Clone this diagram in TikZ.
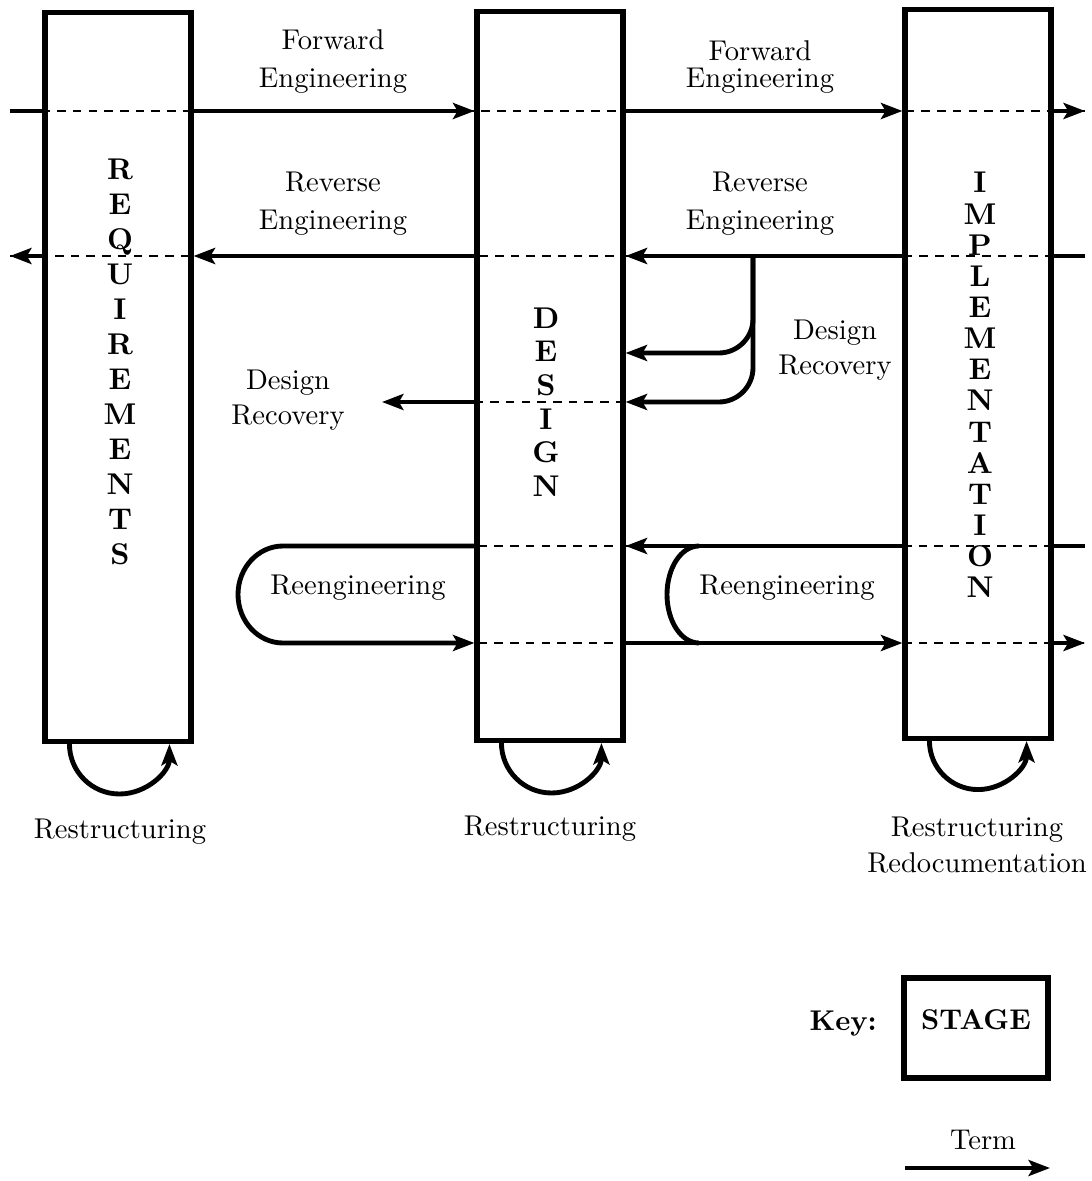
\documentclass[tikz,border=0pt]{standalone}
\usepackage{amsmath,amssymb}
\usepackage{tikz}
\usetikzlibrary{arrows.meta, positioning}

\begin{document}
\begin{tikzpicture}[x=0.35pt, y=-0.35pt]
            % Define block styles
            \tikzstyle{stage} = [draw, rectangle, line width=1.9pt, minimum width=51pt, minimum height=255pt]
            \tikzstyle{keybox} = [draw, rectangle, line width=1.9pt, minimum width=50.5pt, minimum height=35pt, font=\bfseries, text depth=5.6pt]
            \tikzstyle{letters} = [align=center, font={\bfseries\fontsize{10.5pt}{12.25pt}\selectfont}]
            \tikzstyle{txt} = [align=center, font={\fontsize{10pt}{13.3pt}\selectfont}]
            \tikzstyle{wire} = [line width=1.7pt]
            \tikzstyle{flow} = [wire, -{Stealth[length=7.5pt, width=5.6pt, inset=1.6pt]}]
            \tikzstyle{crossing} = [line width=0.5pt, dash pattern=on 3pt off 2.5pt]

            \useasboundingbox (0,0) rectangle (1091,1181);

            % Nodes
            \node[stage] at (118,377) (req) {};
            \node[stage] at (550,376) (des) {};
            \node[stage] at (978,374) (impl) {};
            \node[letters] at (120,362) (reqname) {R\\E\\Q\\U\\I\\R\\E\\M\\E\\N\\T\\S};
            \node[letters, font={\bfseries\fontsize{10.5pt}{11.8pt}\selectfont}] at (546,402) (desname) {D\\E\\S\\I\\G\\N};
            \node[letters, font={\bfseries\fontsize{10.5pt}{10.9pt}\selectfont}] at (980,385) (implname) {I\\M\\P\\L\\E\\M\\E\\N\\T\\A\\T\\I\\O\\N};

            \node[txt] at (333,62) (fwdA) {Forward\\Engineering};
            \node[txt, font={\fontsize{10pt}{9.5pt}\selectfont}] at (760,67) (fwdB) {Forward\\Engineering};
            \node[txt] at (333,204) (revA) {Reverse\\Engineering};
            \node[txt] at (760,204) (revB) {Reverse\\Engineering};
            \node[txt, font={\fontsize{10pt}{12.25pt}\selectfont}] at (288,400) (recA) {Design\\Recovery};
            \node[txt, font={\fontsize{10pt}{12.25pt}\selectfont}] at (835,350) (recB) {Design\\Recovery};
            \node at (358,588) (reengA) {Reengineering};
            \node at (787,588) (reengB) {Reengineering};
            \node at (120,832) (restA) {Restructuring};
            \node at (550,829) (restB) {Restructuring};
            \node[txt, font={\fontsize{10pt}{12.6pt}\selectfont}] at (977,845) (restC) {Restructuring\\Redocumentation};

            % Key
            \node[keybox] at (976,1028) (key) {STAGE};
            \node[font=\bfseries, left=5pt of key, yshift=1.5pt] (keyname) {Key:};
            \node at (983,1140) (term) {Term};

            % Free ends
            \coordinate (fwdin) at (10,111);
            \coordinate (fwdout) at (1085,111);
            \coordinate (revin) at (1085,256);
            \coordinate (revout) at (10,256);
            \coordinate (drturn) at (753,256);
            \coordinate (drhi) at (753,353);
            \coordinate (drlo) at (753,402);
            \coordinate (drout) at (382,402);
            \coordinate (rein) at (1085,546);
            \coordinate (reout) at (1085,643);
            \coordinate (loopL) at (283,546);
            \coordinate (loopR) at (699,546);
            \coordinate (termL) at (905,1168);
            \coordinate (termR) at (1050,1168);

            % Forward engineering
            \draw[crossing] (fwdin) -- (fwdout);
            \draw[wire] (fwdin) -- (req.west |- fwdin);
            \draw[flow] (req.east |- fwdin) -- (des.west |- fwdin);
            \draw[flow] (des.east |- fwdin) -- (impl.west |- fwdin);
            \draw[flow] (impl.east |- fwdin) -- (fwdout);

            % Reverse engineering
            \draw[crossing] (revin) -- (revout);
            \draw[wire] (revin) -- (impl.east |- revin);
            \draw[flow] (impl.west |- revin) -- (des.east |- revin);
            \draw[flow] (des.west |- revin) -- (req.east |- revin);
            \draw[flow] (req.west |- revin) -- (revout);

            % Design recovery
            \draw[flow, rounded corners=12pt] (drturn) |- (des.east |- drhi);
            \draw[flow, rounded corners=12pt] (drturn) |- (des.east |- drlo);
            \draw[crossing] (des.west |- drlo) -- (des.east |- drlo);
            \draw[flow] (des.west |- drlo) -- (drout);

            % Reengineering
            \draw[crossing] ([xshift=-4pt]des.west |- rein) -- (rein);
            \draw[crossing] ([xshift=-4pt]des.west |- reout) -- (reout);
            \draw[flow] (des.west |- rein) -- (loopL) arc[start angle=90, end angle=270, x radius=15.75pt, y radius=16.975pt] -- (des.west |- reout);
            \draw[wire] (rein) -- (impl.east |- rein);
            \draw[flow] (impl.west |- rein) -- (des.east |- rein);
            \draw[wire] (loopR) arc[start angle=90, end angle=270, x radius=11.2pt, y radius=16.975pt];
            \draw[flow] (des.east |- reout) -- (impl.west |- reout);
            \draw[flow] (impl.east |- reout) -- (reout);

            % Restructuring
            \draw[flow] ([xshift=-17pt]req.south) arc[start angle=180, end angle=360, radius=17.5pt];
            \draw[flow] ([xshift=-17pt]des.south) arc[start angle=180, end angle=360, radius=17.5pt];
            \draw[flow] ([xshift=-17pt]impl.south) arc[start angle=180, end angle=360, radius=17pt];

            \draw[flow] (termL) -- (termR);
        \end{tikzpicture}
\end{document}
